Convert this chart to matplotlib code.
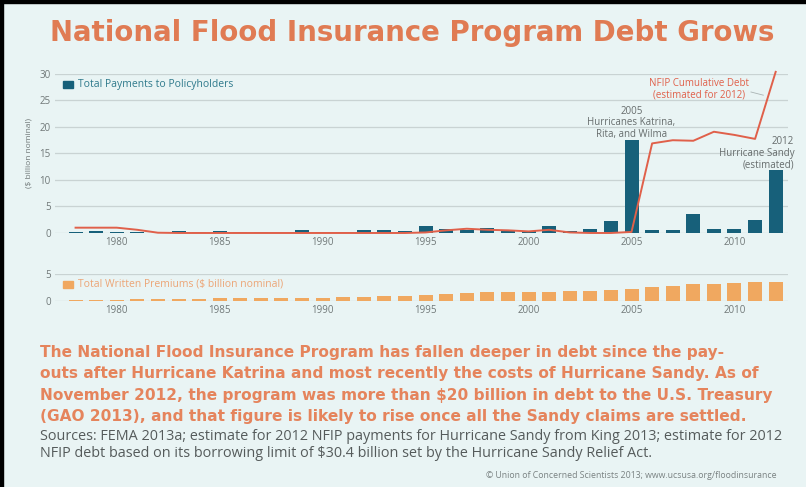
import matplotlib
matplotlib.use('Agg')
import matplotlib.pyplot as plt
import numpy as np

plt.rcParams['font.family'] = ['Open Sans', 'DejaVu Sans']

# data ($ billion nominal)
years = list(range(1978, 2013))
payments = [0.1, 0.45, 0.25, 0.1, 0.05, 0.4, 0.1, 0.3, 0.1, 0.1, 0.05, 0.6, 0.1, 0.25,
            0.65, 0.6, 0.3, 1.25, 0.75, 0.5, 0.85, 0.6, 0.35, 1.3, 0.4, 0.75, 2.2,
            17.6, 0.6, 0.55, 3.5, 0.75, 0.75, 2.4, 11.9]
debt = [1.0, 1.0, 1.0, 0.6, 0.05, 0.0, 0.0, 0.0, 0.0, 0.0, 0.0, 0.0, 0.0, 0.0,
        0.0, 0.0, 0.0, 0.1, 0.5, 0.8, 0.6, 0.5, 0.3, 0.6, 0.1, 0.0, 0.0,
        0.2, 16.9, 17.5, 17.4, 19.1, 18.5, 17.75, 30.4]
premiums = [0.05, 0.1, 0.15, 0.25, 0.3, 0.35, 0.4, 0.45, 0.5, 0.5, 0.55, 0.55, 0.6, 0.7,
            0.75, 0.8, 0.95, 1.1, 1.25, 1.5, 1.6, 1.65, 1.7, 1.7, 1.75, 1.8, 2.0,
            2.2, 2.55, 2.8, 3.05, 3.1, 3.3, 3.45, 3.55]
xticks = [1980, 1985, 1990, 1995, 2000, 2005, 2010]

BG = '#e9f4f4'
TEAL = '#17607a'
ORANGE_BAR = '#f0a860'
LINE = '#e0604a'
TITLE = '#e07b53'
GRID = '#c9d3d3'
GRAY = '#707878'
BOLD = ['DejaVu Sans']

W, H = 806, 487
fig = plt.figure(figsize=(W / 100, H / 100), dpi=100, facecolor=BG)
renderer = fig.canvas.get_renderer()


def px(x, y):
    return x / W, 1 - y / H


def fit(t, target):
    # scale the font so the text is as wide as in the picture
    w = t.get_window_extent(renderer).width
    t.set_fontsize(t.get_fontsize() * target / w)
    return t.get_fontsize()


def style_axes(ax, ymax, yt):
    ax.set_facecolor('none')
    ax.set_xlim(1977.0, 2012.6)
    ax.set_ylim(0, ymax)
    ax.set_yticks(yt)
    ax.set_xticks(xticks)
    for s in ax.spines.values():
        s.set_visible(False)
    ax.grid(axis='y', color=GRID, linewidth=0.9)
    ax.set_axisbelow(True)
    ax.tick_params(length=0, labelsize=7, labelcolor=GRAY, pad=3)


# top panel: payments + cumulative debt
ax1 = fig.add_axes([0.0682, 0.5216, 0.9095, 0.3265])
style_axes(ax1, 30, [0, 5, 10, 15, 20, 25, 30])
ax1.bar(years, payments, width=0.68, color=TEAL, zorder=2)
ax1.plot(years, debt, color=LINE, linewidth=1.4, zorder=3, clip_on=False)
ax1.set_ylabel('(\\$ billion nominal)', fontsize=6, color=GRAY, labelpad=5)

ax1.text(2005, 17.5, '2005\nHurricanes Katrina,\nRita, and Wilma', ha='center', va='bottom',
         fontsize=7, color='#666c6c', linespacing=1.1)
ax1.text(2012.9, 11.7, '2012\nHurricane Sandy\n(estimated)', ha='right', va='bottom',
         fontsize=7, color='#666c6c', linespacing=1.1)
ax1.text(2008.3, 25.0, 'NFIP Cumulative Debt\n(estimated for 2012)', ha='center', va='bottom',
         fontsize=7, color=LINE, linespacing=1.1)
ax1.plot([2010.8, 2011.4], [26.6, 26.0], color='#aab4b4', linewidth=0.6)

# bottom panel: premiums
ax2 = fig.add_axes([0.0682, 0.3825, 0.9095, 0.0548])
style_axes(ax2, 5, [0, 5])
ax2.bar(years, premiums, width=0.68, color=ORANGE_BAR, zorder=2)

# legends drawn as square + label
fig.patches.append(plt.Rectangle(px(63, 88), 10 / W, 7 / H, color=TEAL, transform=fig.transFigure))
t = fig.text(*px(78, 84.5), 'Total Payments to Policyholders', fontsize=7, color='#2f7a8c', va='center')
fit(t, 156)
fig.patches.append(plt.Rectangle(px(63, 288), 10 / W, 7 / H, color=ORANGE_BAR, transform=fig.transFigure))
t = fig.text(*px(78, 284.5), 'Total Written Premiums (\\$ billion nominal)', fontsize=7, color='#eca576', va='center')
fit(t, 207)

# title and notes
t = fig.text(*px(412, 33), 'National Flood Insurance Program Debt Grows', fontsize=19, fontweight='bold',
             family=BOLD, color=TITLE, ha='center', va='center')
fit(t, 725)

body = ['The National Flood Insurance Program has fallen deeper in debt since the pay-',
        'outs after Hurricane Katrina and most recently the costs of Hurricane Sandy. As of',
        'November 2012, the program was more than \\$20 billion in debt to the U.S. Treasury',
        '(GAO 2013), and that figure is likely to rise once all the Sandy claims are settled.']
body_txt = [fig.text(*px(40, 352 + i * 21.6), line, fontsize=12, fontweight='bold', family=BOLD,
                     color='#e5845c', va='center') for i, line in enumerate(body)]
size = fit(body_txt[2], 730)
for t in body_txt:
    t.set_fontsize(size)

sources = ['Sources: FEMA 2013a; estimate for 2012 NFIP payments for Hurricane Sandy from King 2013; estimate for 2012',
           'NFIP debt based on its borrowing limit of \\$30.4 billion set by the Hurricane Sandy Relief Act.']
src_txt = [fig.text(*px(40, 437 + i * 16.5), line, fontsize=8.5, color='#555b5b', va='center')
           for i, line in enumerate(sources)]
size = fit(src_txt[0], 739)
src_txt[1].set_fontsize(size)

t = fig.text(*px(777, 476), '\u00a9 Union of Concerned Scientists 2013; www.ucsusa.org/floodinsurance',
             fontsize=5.5, color='#7a8282', ha='right', va='center')
fit(t, 290)

# black frame on top and left edge
fig.patches.append(plt.Rectangle((0, 1 - 3 / H), 1, 3 / H, color='black', transform=fig.transFigure))
fig.patches.append(plt.Rectangle((0, 0), 3 / W, 1, color='black', transform=fig.transFigure))

fig.savefig('out.png', dpi=100, facecolor=BG)
